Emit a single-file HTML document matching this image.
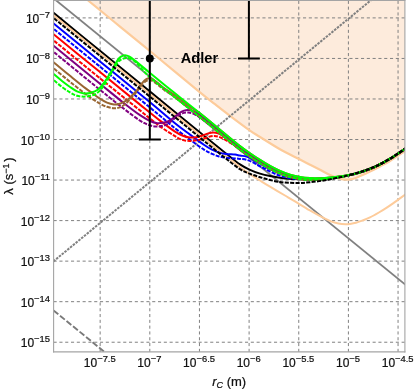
<!DOCTYPE html>
<html><head><meta charset="utf-8"><title>plot</title>
<style>
html,body{margin:0;padding:0;background:#ffffff;}
body{width:415px;height:390px;overflow:hidden;position:relative;font-family:"Liberation Sans",sans-serif;}
</style></head><body>
<svg width="415" height="390" viewBox="0 0 415 390" style="position:absolute;left:0;top:0;will-change:transform">
<defs><clipPath id="cp"><rect x="53.60" y="0.50" width="351.30" height="351.40"/></clipPath></defs>
<rect x="0" y="0" width="415" height="390" fill="#ffffff"/>
<g clip-path="url(#cp)">
<path d="M80.00,-6.10 C81.25,-5.08 80.83,-5.45 87.50,0.00 C94.17,5.45 107.78,16.60 120.00,26.60 C132.22,36.60 147.47,49.05 160.80,60.00 C174.13,70.95 190.97,84.93 200.00,92.30 C209.03,99.67 210.00,100.28 215.00,104.20 C220.00,108.12 224.17,111.40 230.00,115.80 C235.83,120.20 245.00,127.07 250.00,130.60 C255.00,134.13 255.00,133.88 260.00,137.00 C265.00,140.12 273.33,145.53 280.00,149.30 C286.67,153.07 295.00,157.03 300.00,159.60 C305.00,162.17 306.67,163.00 310.00,164.70 C313.33,166.40 316.67,168.08 320.00,169.80 C323.33,171.52 327.00,173.60 330.00,175.00 C333.00,176.40 335.50,177.43 338.00,178.20 C340.50,178.97 343.00,179.40 345.00,179.60 C347.00,179.80 348.33,179.63 350.00,179.40 C351.67,179.17 353.33,178.77 355.00,178.20 C356.67,177.63 357.68,177.03 360.00,176.00 C362.32,174.97 365.57,173.60 368.90,172.00 C372.23,170.40 376.48,168.23 380.00,166.40 C383.52,164.57 385.83,163.55 390.00,161.00 C394.17,158.45 401.67,153.33 405.00,151.10 C408.33,148.87 409.17,148.18 410.00,147.60 L410,-10 L80,-10 Z" fill="#fdebdc" stroke="none"/>
<line x1="53.60" y1="342.22" x2="404.90" y2="342.22" stroke="#808080" stroke-width="1" stroke-dasharray="3.1,2.7"/>
<line x1="53.60" y1="301.68" x2="404.90" y2="301.68" stroke="#808080" stroke-width="1" stroke-dasharray="3.1,2.7"/>
<line x1="53.60" y1="261.14" x2="404.90" y2="261.14" stroke="#808080" stroke-width="1" stroke-dasharray="3.1,2.7"/>
<line x1="53.60" y1="220.60" x2="404.90" y2="220.60" stroke="#808080" stroke-width="1" stroke-dasharray="3.1,2.7"/>
<line x1="53.60" y1="180.06" x2="404.90" y2="180.06" stroke="#808080" stroke-width="1" stroke-dasharray="3.1,2.7"/>
<line x1="53.60" y1="139.52" x2="404.90" y2="139.52" stroke="#808080" stroke-width="1" stroke-dasharray="3.1,2.7"/>
<line x1="53.60" y1="98.98" x2="404.90" y2="98.98" stroke="#808080" stroke-width="1" stroke-dasharray="3.1,2.7"/>
<line x1="53.60" y1="58.44" x2="404.90" y2="58.44" stroke="#808080" stroke-width="1" stroke-dasharray="3.1,2.7"/>
<line x1="53.60" y1="17.90" x2="404.90" y2="17.90" stroke="#808080" stroke-width="1" stroke-dasharray="3.1,2.7"/>
<line x1="100.15" y1="351.90" x2="100.15" y2="0.50" stroke="#808080" stroke-width="1" stroke-dasharray="3.1,2.7"/>
<line x1="149.80" y1="351.90" x2="149.80" y2="0.50" stroke="#808080" stroke-width="1" stroke-dasharray="3.1,2.7"/>
<line x1="199.45" y1="351.90" x2="199.45" y2="0.50" stroke="#808080" stroke-width="1" stroke-dasharray="3.1,2.7"/>
<line x1="249.10" y1="351.90" x2="249.10" y2="0.50" stroke="#808080" stroke-width="1" stroke-dasharray="3.1,2.7"/>
<line x1="298.75" y1="351.90" x2="298.75" y2="0.50" stroke="#808080" stroke-width="1" stroke-dasharray="3.1,2.7"/>
<line x1="348.40" y1="351.90" x2="348.40" y2="0.50" stroke="#808080" stroke-width="1" stroke-dasharray="3.1,2.7"/>
<line x1="398.05" y1="351.90" x2="398.05" y2="0.50" stroke="#808080" stroke-width="1" stroke-dasharray="3.1,2.7"/>
<path d="M80.00,-6.10 C81.25,-5.08 80.83,-5.45 87.50,0.00 C94.17,5.45 107.78,16.60 120.00,26.60 C132.22,36.60 147.47,49.05 160.80,60.00 C174.13,70.95 190.97,84.93 200.00,92.30 C209.03,99.67 210.00,100.28 215.00,104.20 C220.00,108.12 224.17,111.40 230.00,115.80 C235.83,120.20 245.00,127.07 250.00,130.60 C255.00,134.13 255.00,133.88 260.00,137.00 C265.00,140.12 273.33,145.53 280.00,149.30 C286.67,153.07 295.00,157.03 300.00,159.60 C305.00,162.17 306.67,163.00 310.00,164.70 C313.33,166.40 316.67,168.08 320.00,169.80 C323.33,171.52 327.00,173.60 330.00,175.00 C333.00,176.40 335.50,177.43 338.00,178.20 C340.50,178.97 343.00,179.40 345.00,179.60 C347.00,179.80 348.33,179.63 350.00,179.40 C351.67,179.17 353.33,178.77 355.00,178.20 C356.67,177.63 357.68,177.03 360.00,176.00 C362.32,174.97 365.57,173.60 368.90,172.00 C372.23,170.40 376.48,168.23 380.00,166.40 C383.52,164.57 385.83,163.55 390.00,161.00 C394.17,158.45 401.67,153.33 405.00,151.10 C408.33,148.87 409.17,148.18 410.00,147.60" fill="none" stroke="#fdcb9a" stroke-width="2.2"/>
<line x1="50.00" y1="-4.56" x2="410.00" y2="288.48" stroke="#808080" stroke-width="1.8"/>
<line x1="53.40" y1="261.40" x2="383.40" y2="-10.03" stroke="#808080" stroke-width="2" stroke-dasharray="2.5,1.1"/>
<line x1="53.50" y1="310.40" x2="113.50" y2="359.30" stroke="#7a7a7a" stroke-width="1.9" stroke-dasharray="6.2,2.2"/>
<path d="M50.00,9.96 C58.33,16.77 83.33,37.19 100.00,50.80 C116.67,64.41 133.33,78.02 150.00,91.64 C166.67,105.26 187.50,122.32 200.00,132.50 C212.50,142.68 218.33,147.38 225.00,152.70 C231.67,158.02 235.83,161.55 240.00,164.40 C244.17,167.25 246.67,168.27 250.00,169.80 C253.33,171.33 256.67,172.57 260.00,173.60 C263.33,174.63 265.83,175.20 270.00,176.00 C274.17,176.80 280.00,177.85 285.00,178.40 C290.00,178.95 295.00,179.22 300.00,179.30 C305.00,179.38 310.00,179.15 315.00,178.90 C320.00,178.65 325.83,178.22 330.00,177.80 C334.17,177.38 336.67,176.92 340.00,176.40 C343.33,175.88 346.67,175.40 350.00,174.70 C353.33,174.00 355.83,173.55 360.00,172.20 C364.17,170.85 370.00,168.85 375.00,166.60 C380.00,164.35 385.00,161.67 390.00,158.70 C395.00,155.73 401.67,151.03 405.00,148.80 C408.33,146.57 409.17,145.88 410.00,145.30" fill="none" stroke="#000000" stroke-width="2.00"/>
<path d="M50.00,12.36 C58.33,19.17 83.33,39.59 100.00,53.20 C116.67,66.81 133.33,80.39 150.00,94.04 C166.67,107.69 188.33,125.57 200.00,135.10 C211.67,144.63 213.33,145.85 220.00,151.20 C226.67,156.55 235.00,163.38 240.00,167.20 C245.00,171.02 246.67,171.88 250.00,174.10 C253.33,176.32 256.67,178.40 260.00,180.50 C263.33,182.60 265.83,184.20 270.00,186.70 C274.17,189.20 280.83,193.05 285.00,195.50 C289.17,197.95 290.92,198.95 295.00,201.40 C299.08,203.85 304.68,207.40 309.50,210.20 C314.32,213.00 320.32,216.33 323.90,218.20 C327.48,220.07 328.58,220.53 331.00,221.40 C333.42,222.27 335.97,222.93 338.40,223.40 C340.83,223.87 343.67,224.12 345.60,224.20 C347.53,224.28 348.27,224.13 350.00,223.90 C351.73,223.67 353.95,223.35 356.00,222.80 C358.05,222.25 359.97,221.50 362.30,220.60 C364.63,219.70 367.23,218.75 370.00,217.40 C372.77,216.05 376.23,214.05 378.90,212.50 C381.57,210.95 383.58,209.67 386.00,208.10 C388.42,206.53 390.30,205.27 393.40,203.10 C396.50,200.93 401.83,197.08 404.60,195.10 C407.37,193.12 409.10,191.85 410.00,191.20" fill="none" stroke="#fdcb9a" stroke-width="2.0"/>
<path d="M50.00,20.56 C58.33,27.37 83.33,47.79 100.00,61.40 C116.67,75.01 137.50,91.94 150.00,102.24 C162.50,112.54 168.33,117.81 175.00,123.20 C181.67,128.59 185.18,131.02 190.00,134.60 C194.82,138.18 200.23,142.18 203.90,144.70 C207.57,147.22 209.58,148.42 212.00,149.70 C214.42,150.98 216.07,151.68 218.40,152.40 C220.73,153.12 223.23,153.63 226.00,154.00 C228.77,154.37 232.67,154.33 235.00,154.60 C237.33,154.87 238.08,155.27 240.00,155.60 C241.92,155.93 244.33,155.93 246.50,156.60 C248.67,157.27 250.83,158.50 253.00,159.60 C255.17,160.70 257.33,161.97 259.50,163.20 C261.67,164.43 263.83,165.82 266.00,167.00 C268.17,168.18 270.33,169.30 272.50,170.30 C274.67,171.30 276.92,172.28 279.00,173.00 C281.08,173.72 282.83,174.00 285.00,174.60 C287.17,175.20 289.50,176.03 292.00,176.60 C294.50,177.17 297.00,177.63 300.00,178.01 C303.00,178.38 305.83,178.74 310.00,178.84 C314.17,178.94 320.00,178.95 325.00,178.60 C330.00,178.25 335.83,177.38 340.00,176.76 C344.17,176.14 346.67,175.63 350.00,174.90 C353.33,174.17 355.83,173.74 360.00,172.39 C364.17,171.03 370.00,169.02 375.00,166.76 C380.00,164.51 385.00,161.82 390.00,158.84 C395.00,155.87 401.67,151.16 405.00,148.92 C408.33,146.68 409.17,146.00 410.00,145.41" fill="none" stroke="#0000ff" stroke-width="2.00"/>
<path d="M50.00,25.86 C58.33,32.67 83.33,53.09 100.00,66.70 C116.67,80.31 137.50,97.27 150.00,107.54 C162.50,117.81 168.33,122.96 175.00,128.30 C181.67,133.64 185.18,136.05 190.00,139.60 C194.82,143.15 200.23,147.23 203.90,149.60 C207.57,151.97 209.58,152.70 212.00,153.80 C214.42,154.90 216.07,155.53 218.40,156.20 C220.73,156.87 223.23,157.43 226.00,157.80 C228.77,158.17 232.67,158.22 235.00,158.40 C237.33,158.58 238.08,158.67 240.00,158.90 C241.92,159.13 244.33,159.22 246.50,159.80 C248.67,160.38 250.83,161.37 253.00,162.40 C255.17,163.43 257.33,164.83 259.50,166.00 C261.67,167.17 263.83,168.28 266.00,169.40 C268.17,170.52 270.33,171.70 272.50,172.70 C274.67,173.70 276.92,174.68 279.00,175.40 C281.08,176.12 282.83,176.50 285.00,177.00 C287.17,177.50 289.50,178.06 292.00,178.40 C294.50,178.74 297.00,178.80 300.00,179.01 C303.00,179.23 305.83,179.66 310.00,179.69 C314.17,179.72 320.00,179.63 325.00,179.20 C330.00,178.77 335.83,177.80 340.00,177.12 C344.17,176.44 346.67,175.86 350.00,175.10 C353.33,174.34 355.83,173.93 360.00,172.57 C364.17,171.21 370.00,169.19 375.00,166.93 C380.00,164.66 385.00,161.97 390.00,158.99 C395.00,156.00 401.67,151.29 405.00,149.04 C408.33,146.80 409.17,146.11 410.00,145.53" fill="none" stroke="#0000ff" stroke-width="2.00" stroke-dasharray="4.1,1.3"/>
<path d="M50.00,31.26 C58.33,38.07 85.00,59.88 100.00,72.10 C115.00,84.32 130.00,96.52 140.00,104.60 C150.00,112.68 154.17,116.10 160.00,120.60 C165.83,125.10 171.17,129.07 175.00,131.60 C178.83,134.13 180.58,134.82 183.00,135.80 C185.42,136.78 187.33,137.25 189.50,137.50 C191.67,137.75 194.08,137.55 196.00,137.30 C197.92,137.05 198.95,136.65 201.00,136.00 C203.05,135.35 206.25,133.98 208.30,133.40 C210.35,132.82 211.68,132.52 213.30,132.50 C214.92,132.48 216.18,132.65 218.00,133.30 C219.82,133.95 222.20,135.18 224.20,136.40 C226.20,137.62 228.20,139.30 230.00,140.60 C231.80,141.90 233.33,142.99 235.00,144.20 C236.67,145.41 237.50,146.07 240.00,147.85 C242.50,149.64 246.67,152.64 250.00,154.92 C253.33,157.20 256.67,159.45 260.00,161.53 C263.33,163.60 266.67,165.59 270.00,167.38 C273.33,169.16 276.67,170.83 280.00,172.22 C283.33,173.62 286.67,174.81 290.00,175.77 C293.33,176.73 296.67,177.49 300.00,178.01 C303.33,178.52 305.83,178.74 310.00,178.84 C314.17,178.94 320.00,178.95 325.00,178.60 C330.00,178.25 335.83,177.38 340.00,176.76 C344.17,176.14 346.67,175.63 350.00,174.90 C353.33,174.17 355.83,173.74 360.00,172.39 C364.17,171.03 370.00,169.02 375.00,166.76 C380.00,164.51 385.00,161.82 390.00,158.84 C395.00,155.87 401.67,151.16 405.00,148.92 C408.33,146.68 409.17,146.00 410.00,145.41" fill="none" stroke="#ff0000" stroke-width="2.00"/>
<path d="M50.00,37.46 C58.33,44.27 85.00,66.14 100.00,78.30 C115.00,90.46 130.00,102.38 140.00,110.40 C150.00,118.42 154.17,122.10 160.00,126.40 C165.83,130.70 171.50,134.03 175.00,136.20 C178.50,138.37 179.07,138.63 181.00,139.40 C182.93,140.17 184.60,140.57 186.60,140.80 C188.60,141.03 190.77,141.00 193.00,140.80 C195.23,140.60 197.50,140.23 200.00,139.60 C202.50,138.97 205.67,137.60 208.00,137.00 C210.33,136.40 212.17,136.03 214.00,136.00 C215.83,135.97 217.17,136.20 219.00,136.80 C220.83,137.40 223.00,138.53 225.00,139.60 C227.00,140.67 229.17,142.03 231.00,143.20 C232.83,144.37 234.50,145.53 236.00,146.60 C237.50,147.67 237.67,147.94 240.00,149.61 C242.33,151.28 246.67,154.38 250.00,156.64 C253.33,158.89 256.67,161.11 260.00,163.15 C263.33,165.19 266.67,167.12 270.00,168.85 C273.33,170.58 276.67,172.20 280.00,173.55 C283.33,174.90 286.67,176.03 290.00,176.94 C293.33,177.85 296.67,178.55 300.00,179.01 C303.33,179.47 305.83,179.66 310.00,179.69 C314.17,179.72 320.00,179.63 325.00,179.20 C330.00,178.77 335.83,177.80 340.00,177.12 C344.17,176.44 346.67,175.86 350.00,175.10 C353.33,174.34 355.83,173.93 360.00,172.57 C364.17,171.21 370.00,169.19 375.00,166.93 C380.00,164.66 385.00,161.97 390.00,158.99 C395.00,156.00 401.67,151.29 405.00,149.04 C408.33,146.80 409.17,146.11 410.00,145.53" fill="none" stroke="#ff0000" stroke-width="2.00" stroke-dasharray="4.1,1.3"/>
<path d="M50.00,42.86 C58.33,49.67 87.50,73.51 100.00,83.70 C112.50,93.89 118.33,98.75 125.00,104.00 C131.67,109.25 135.83,112.37 140.00,115.20 C144.17,118.03 147.12,119.67 150.00,121.00 C152.88,122.33 155.13,122.90 157.30,123.20 C159.47,123.50 161.07,123.17 163.00,122.80 C164.93,122.43 166.95,122.00 168.90,121.00 C170.85,120.00 172.77,118.23 174.70,116.80 C176.63,115.37 178.95,113.43 180.50,112.40 C182.05,111.37 182.80,111.02 184.00,110.60 C185.20,110.18 186.37,109.90 187.70,109.90 C189.03,109.90 190.62,110.18 192.00,110.60 C193.38,111.02 194.67,111.67 196.00,112.40 C197.33,113.13 198.33,113.77 200.00,115.00 C201.67,116.23 204.00,118.20 206.00,119.80 C208.00,121.40 209.67,122.65 212.00,124.60 C214.33,126.55 215.33,127.65 220.00,131.53 C224.67,135.40 235.00,143.96 240.00,147.85 C245.00,151.75 246.67,152.64 250.00,154.92 C253.33,157.20 256.67,159.45 260.00,161.53 C263.33,163.60 266.67,165.59 270.00,167.38 C273.33,169.16 276.67,170.83 280.00,172.22 C283.33,173.62 286.67,174.81 290.00,175.77 C293.33,176.73 296.67,177.49 300.00,178.01 C303.33,178.52 305.83,178.74 310.00,178.84 C314.17,178.94 320.00,178.95 325.00,178.60 C330.00,178.25 335.83,177.38 340.00,176.76 C344.17,176.14 346.67,175.63 350.00,174.90 C353.33,174.17 355.83,173.74 360.00,172.39 C364.17,171.03 370.00,169.02 375.00,166.76 C380.00,164.51 385.00,161.82 390.00,158.84 C395.00,155.87 401.67,151.16 405.00,148.92 C408.33,146.68 409.17,146.00 410.00,145.41" fill="none" stroke="#800080" stroke-width="2.00"/>
<path d="M50.00,48.96 C58.33,55.77 87.50,79.69 100.00,89.80 C112.50,99.91 118.33,104.47 125.00,109.60 C131.67,114.73 136.00,118.03 140.00,120.60 C144.00,123.17 146.33,124.03 149.00,125.00 C151.67,125.97 153.67,126.27 156.00,126.40 C158.33,126.53 160.83,126.37 163.00,125.80 C165.17,125.23 167.00,124.30 169.00,123.00 C171.00,121.70 173.17,119.43 175.00,118.00 C176.83,116.57 178.50,115.25 180.00,114.40 C181.50,113.55 182.60,113.22 184.00,112.90 C185.40,112.58 187.07,112.45 188.40,112.50 C189.73,112.55 190.73,112.78 192.00,113.20 C193.27,113.62 194.67,114.27 196.00,115.00 C197.33,115.73 198.33,116.43 200.00,117.60 C201.67,118.77 204.00,120.50 206.00,122.00 C208.00,123.50 209.67,124.71 212.00,126.60 C214.33,128.49 215.33,129.52 220.00,133.35 C224.67,137.19 235.00,145.73 240.00,149.61 C245.00,153.49 246.67,154.38 250.00,156.64 C253.33,158.89 256.67,161.11 260.00,163.15 C263.33,165.19 266.67,167.12 270.00,168.85 C273.33,170.58 276.67,172.20 280.00,173.55 C283.33,174.90 286.67,176.03 290.00,176.94 C293.33,177.85 296.67,178.55 300.00,179.01 C303.33,179.47 305.83,179.66 310.00,179.69 C314.17,179.72 320.00,179.63 325.00,179.20 C330.00,178.77 335.83,177.80 340.00,177.12 C344.17,176.44 346.67,175.86 350.00,175.10 C353.33,174.34 355.83,173.93 360.00,172.57 C364.17,171.21 370.00,169.19 375.00,166.93 C380.00,164.66 385.00,161.97 390.00,158.99 C395.00,156.00 401.67,151.29 405.00,149.04 C408.33,146.80 409.17,146.11 410.00,145.53" fill="none" stroke="#800080" stroke-width="2.00" stroke-dasharray="4.1,1.3"/>
<path d="M50.00,59.40 C51.00,60.22 52.67,61.57 56.00,64.30 C59.33,67.03 65.17,71.87 70.00,75.80 C74.83,79.73 81.33,85.05 85.00,87.90 C88.67,90.75 89.58,91.15 92.00,92.90 C94.42,94.65 97.00,96.78 99.50,98.40 C102.00,100.02 104.60,101.60 107.00,102.60 C109.40,103.60 111.90,104.17 113.90,104.40 C115.90,104.63 117.32,104.42 119.00,104.00 C120.68,103.58 122.25,102.87 124.00,101.90 C125.75,100.93 128.05,99.40 129.50,98.20 C130.95,97.00 131.50,95.97 132.70,94.70 C133.90,93.43 135.50,92.07 136.70,90.60 C137.90,89.13 138.93,87.23 139.90,85.90 C140.87,84.57 141.48,83.68 142.50,82.60 C143.52,81.52 144.92,80.13 146.00,79.40 C147.08,78.67 147.92,78.23 149.00,78.20 C150.08,78.17 150.93,78.30 152.50,79.20 C154.07,80.10 156.32,82.00 158.40,83.60 C160.48,85.20 162.23,86.85 165.00,88.80 C167.77,90.75 171.17,92.53 175.00,95.30 C178.83,98.07 183.83,102.40 188.00,105.40 C192.17,108.40 194.67,109.25 200.00,113.30 C205.33,117.35 213.33,124.23 220.00,129.70 C226.67,135.17 235.00,142.18 240.00,146.10 C245.00,150.02 246.67,150.90 250.00,153.20 C253.33,155.50 256.67,157.78 260.00,159.90 C263.33,162.02 266.67,164.07 270.00,165.90 C273.33,167.73 276.67,169.45 280.00,170.90 C283.33,172.35 286.67,173.58 290.00,174.60 C293.33,175.62 296.67,176.43 300.00,177.00 C303.33,177.57 305.83,177.83 310.00,178.00 C314.17,178.17 320.00,178.27 325.00,178.00 C330.00,177.73 335.83,176.95 340.00,176.40 C344.17,175.85 346.67,175.40 350.00,174.70 C353.33,174.00 355.83,173.55 360.00,172.20 C364.17,170.85 370.00,168.85 375.00,166.60 C380.00,164.35 385.00,161.67 390.00,158.70 C395.00,155.73 401.67,151.03 405.00,148.80 C408.33,146.57 409.17,145.88 410.00,145.30" fill="none" stroke="#996633" stroke-width="2.00"/>
<path d="M50.00,65.40 C51.00,66.22 52.67,67.57 56.00,70.30 C59.33,73.03 65.17,77.92 70.00,81.80 C74.83,85.68 81.33,90.80 85.00,93.60 C88.67,96.40 89.58,96.97 92.00,98.60 C94.42,100.23 97.00,102.03 99.50,103.40 C102.00,104.77 104.60,106.00 107.00,106.80 C109.40,107.60 111.90,108.07 113.90,108.20 C115.90,108.33 117.32,108.13 119.00,107.60 C120.68,107.07 122.25,106.27 124.00,105.00 C125.75,103.73 128.00,101.53 129.50,100.00 C131.00,98.47 131.75,97.23 133.00,95.80 C134.25,94.37 135.80,92.90 137.00,91.40 C138.20,89.90 139.20,88.10 140.20,86.80 C141.20,85.50 141.95,84.58 143.00,83.60 C144.05,82.62 145.33,81.47 146.50,80.90 C147.67,80.33 148.75,80.05 150.00,80.20 C151.25,80.35 152.50,80.90 154.00,81.80 C155.50,82.70 157.17,84.13 159.00,85.60 C160.83,87.07 162.33,88.63 165.00,90.60 C167.67,92.57 169.17,92.99 175.00,97.40 C180.83,101.82 192.50,111.11 200.00,117.10 C207.50,123.09 213.33,127.94 220.00,133.35 C226.67,138.77 235.00,145.73 240.00,149.61 C245.00,153.49 246.67,154.38 250.00,156.64 C253.33,158.89 256.67,161.11 260.00,163.15 C263.33,165.19 266.67,167.12 270.00,168.85 C273.33,170.58 276.67,172.20 280.00,173.55 C283.33,174.90 286.67,176.03 290.00,176.94 C293.33,177.85 296.67,178.55 300.00,179.01 C303.33,179.47 305.83,179.66 310.00,179.69 C314.17,179.72 320.00,179.63 325.00,179.20 C330.00,178.77 335.83,177.80 340.00,177.12 C344.17,176.44 346.67,175.86 350.00,175.10 C353.33,174.34 355.83,173.93 360.00,172.57 C364.17,171.21 370.00,169.19 375.00,166.93 C380.00,164.66 385.00,161.97 390.00,158.99 C395.00,156.00 401.67,151.29 405.00,149.04 C408.33,146.80 409.17,146.11 410.00,145.53" fill="none" stroke="#996633" stroke-width="2.00" stroke-dasharray="4.1,1.3"/>
<path d="M50.00,70.60 C50.60,71.15 51.60,72.17 53.60,73.90 C55.60,75.63 59.27,78.82 62.00,81.00 C64.73,83.18 67.50,85.27 70.00,87.00 C72.50,88.73 74.67,90.33 77.00,91.40 C79.33,92.47 81.83,93.13 84.00,93.40 C86.17,93.67 87.72,93.60 90.00,93.00 C92.28,92.40 95.17,91.78 97.70,89.80 C100.23,87.82 102.75,84.47 105.20,81.10 C107.65,77.73 110.30,73.13 112.40,69.60 C114.50,66.07 116.37,62.07 117.80,59.90 C119.23,57.73 119.80,57.38 121.00,56.60 C122.20,55.82 123.58,55.20 125.00,55.20 C126.42,55.20 127.83,55.70 129.50,56.60 C131.17,57.50 131.58,57.87 135.00,60.60 C138.42,63.33 143.33,67.55 150.00,73.00 C156.67,78.45 166.67,86.58 175.00,93.30 C183.33,100.02 192.50,107.23 200.00,113.30 C207.50,119.37 213.33,124.23 220.00,129.70 C226.67,135.17 235.00,142.18 240.00,146.10 C245.00,150.02 246.67,150.90 250.00,153.20 C253.33,155.50 256.67,157.78 260.00,159.90 C263.33,162.02 266.67,164.07 270.00,165.90 C273.33,167.73 276.67,169.45 280.00,170.90 C283.33,172.35 286.67,173.58 290.00,174.60 C293.33,175.62 296.67,176.43 300.00,177.00 C303.33,177.57 305.83,177.83 310.00,178.00 C314.17,178.17 320.00,178.27 325.00,178.00 C330.00,177.73 335.83,176.95 340.00,176.40 C344.17,175.85 346.67,175.40 350.00,174.70 C353.33,174.00 355.83,173.55 360.00,172.20 C364.17,170.85 370.00,168.85 375.00,166.60 C380.00,164.35 385.00,161.67 390.00,158.70 C395.00,155.73 401.67,151.03 405.00,148.80 C408.33,146.57 409.17,145.88 410.00,145.30" fill="none" stroke="#00ff00" stroke-width="2.00"/>
<path d="M50.00,76.80 C50.60,77.32 51.60,78.20 53.60,79.90 C55.60,81.60 59.27,84.92 62.00,87.00 C64.73,89.08 67.67,91.00 70.00,92.40 C72.33,93.80 73.92,94.70 76.00,95.40 C78.08,96.10 80.33,96.50 82.50,96.60 C84.67,96.70 86.58,96.57 89.00,96.00 C91.42,95.43 94.37,95.17 97.00,93.20 C99.63,91.23 102.27,87.80 104.80,84.20 C107.33,80.60 110.02,75.27 112.20,71.60 C114.38,67.93 116.30,64.27 117.90,62.20 C119.50,60.13 120.40,59.92 121.80,59.20 C123.20,58.48 124.85,57.97 126.30,57.90 C127.75,57.83 128.88,58.02 130.50,58.80 C132.12,59.58 132.75,59.51 136.00,62.60 C139.25,65.69 143.50,71.54 150.00,77.34 C156.50,83.14 166.67,90.78 175.00,97.40 C183.33,104.03 192.50,111.11 200.00,117.10 C207.50,123.09 213.33,127.94 220.00,133.35 C226.67,138.77 235.00,145.73 240.00,149.61 C245.00,153.49 246.67,154.38 250.00,156.64 C253.33,158.89 256.67,161.11 260.00,163.15 C263.33,165.19 266.67,167.12 270.00,168.85 C273.33,170.58 276.67,172.20 280.00,173.55 C283.33,174.90 286.67,176.03 290.00,176.94 C293.33,177.85 296.67,178.55 300.00,179.01 C303.33,179.47 305.83,179.66 310.00,179.69 C314.17,179.72 320.00,179.63 325.00,179.20 C330.00,178.77 335.83,177.80 340.00,177.12 C344.17,176.44 346.67,175.86 350.00,175.10 C353.33,174.34 355.83,173.93 360.00,172.57 C364.17,171.21 370.00,169.19 375.00,166.93 C380.00,164.66 385.00,161.97 390.00,158.99 C395.00,156.00 401.67,151.29 405.00,149.04 C408.33,146.80 409.17,146.11 410.00,145.53" fill="none" stroke="#00ff00" stroke-width="2.00" stroke-dasharray="4.1,1.3"/>
<path d="M50.00,15.06 C58.33,21.87 83.33,42.29 100.00,55.90 C116.67,69.51 133.33,83.12 150.00,96.74 C166.67,110.36 187.50,127.42 200.00,137.60 C212.50,147.78 218.33,152.53 225.00,157.80 C231.67,163.07 235.83,166.53 240.00,169.20 C244.17,171.87 246.67,172.47 250.00,173.80 C253.33,175.13 256.67,176.17 260.00,177.20 C263.33,178.23 266.67,179.20 270.00,180.00 C273.33,180.80 276.67,181.53 280.00,182.00 C283.33,182.47 286.67,182.63 290.00,182.80 C293.33,182.97 296.67,183.10 300.00,183.00 C303.33,182.90 305.83,182.65 310.00,182.20 C314.17,181.75 320.00,181.13 325.00,180.30 C330.00,179.47 335.83,178.10 340.00,177.20 C344.17,176.30 348.33,175.28 350.00,174.90" fill="none" stroke="#000000" stroke-width="2.00" stroke-dasharray="4.1,1.3"/>
<path d="M350.00,174.90 C351.67,174.45 355.83,173.58 360.00,172.20 C364.17,170.82 370.00,168.85 375.00,166.60 C380.00,164.35 385.00,161.67 390.00,158.70 C395.00,155.73 401.67,151.03 405.00,148.80 C408.33,146.57 409.17,145.88 410.00,145.30" fill="none" stroke="#000000" stroke-width="2.50" stroke-dasharray="4.3,1.1"/>
<line x1="149.8" y1="-5" x2="149.8" y2="139.5" stroke="#000" stroke-width="2"/>
<line x1="138.8" y1="139.5" x2="160.8" y2="139.5" stroke="#000" stroke-width="2"/>
<line x1="248.9" y1="-5" x2="248.9" y2="58.4" stroke="#000" stroke-width="2"/>
<line x1="238" y1="58.4" x2="259.8" y2="58.4" stroke="#000" stroke-width="2"/>
<circle cx="149.8" cy="58.4" r="4" fill="#000"/>
</g>
<line x1="53.1" y1="0.5" x2="405.4" y2="0.5" stroke="#a4a4a4" stroke-width="1.1"/>
<line x1="53.6" y1="0" x2="53.6" y2="352.4" stroke="#a4a4a4" stroke-width="1.1"/>
<line x1="404.9" y1="0" x2="404.9" y2="352.4" stroke="#a4a4a4" stroke-width="1.1"/>
<line x1="53.1" y1="351.9" x2="405.4" y2="351.9" stroke="#a4a4a4" stroke-width="1.1"/>
<text x="50.00" y="22.90" text-anchor="end" font-family="Liberation Sans, sans-serif" font-size="12" fill="#111111" stroke="#111111" stroke-width="0.22">10<tspan font-size="9.4" dy="-4.9">−7</tspan></text>
<text x="50.00" y="63.44" text-anchor="end" font-family="Liberation Sans, sans-serif" font-size="12" fill="#111111" stroke="#111111" stroke-width="0.22">10<tspan font-size="9.4" dy="-4.9">−8</tspan></text>
<text x="50.00" y="103.98" text-anchor="end" font-family="Liberation Sans, sans-serif" font-size="12" fill="#111111" stroke="#111111" stroke-width="0.22">10<tspan font-size="9.4" dy="-4.9">−9</tspan></text>
<text x="50.00" y="144.52" text-anchor="end" font-family="Liberation Sans, sans-serif" font-size="12" fill="#111111" stroke="#111111" stroke-width="0.22">10<tspan font-size="9.4" dy="-4.9">−10</tspan></text>
<text x="50.00" y="185.06" text-anchor="end" font-family="Liberation Sans, sans-serif" font-size="12" fill="#111111" stroke="#111111" stroke-width="0.22">10<tspan font-size="9.4" dy="-4.9">−11</tspan></text>
<text x="50.00" y="225.60" text-anchor="end" font-family="Liberation Sans, sans-serif" font-size="12" fill="#111111" stroke="#111111" stroke-width="0.22">10<tspan font-size="9.4" dy="-4.9">−12</tspan></text>
<text x="50.00" y="266.14" text-anchor="end" font-family="Liberation Sans, sans-serif" font-size="12" fill="#111111" stroke="#111111" stroke-width="0.22">10<tspan font-size="9.4" dy="-4.9">−13</tspan></text>
<text x="50.00" y="306.68" text-anchor="end" font-family="Liberation Sans, sans-serif" font-size="12" fill="#111111" stroke="#111111" stroke-width="0.22">10<tspan font-size="9.4" dy="-4.9">−14</tspan></text>
<text x="50.00" y="347.22" text-anchor="end" font-family="Liberation Sans, sans-serif" font-size="12" fill="#111111" stroke="#111111" stroke-width="0.22">10<tspan font-size="9.4" dy="-4.9">−15</tspan></text>
<text x="99.75" y="366.50" text-anchor="middle" font-family="Liberation Sans, sans-serif" font-size="12" fill="#111111" stroke="#111111" stroke-width="0.22">10<tspan font-size="9.4" dy="-4.9">−7.5</tspan></text>
<text x="149.40" y="366.50" text-anchor="middle" font-family="Liberation Sans, sans-serif" font-size="12" fill="#111111" stroke="#111111" stroke-width="0.22">10<tspan font-size="9.4" dy="-4.9">−7</tspan></text>
<text x="199.05" y="366.50" text-anchor="middle" font-family="Liberation Sans, sans-serif" font-size="12" fill="#111111" stroke="#111111" stroke-width="0.22">10<tspan font-size="9.4" dy="-4.9">−6.5</tspan></text>
<text x="248.70" y="366.50" text-anchor="middle" font-family="Liberation Sans, sans-serif" font-size="12" fill="#111111" stroke="#111111" stroke-width="0.22">10<tspan font-size="9.4" dy="-4.9">−6</tspan></text>
<text x="298.35" y="366.50" text-anchor="middle" font-family="Liberation Sans, sans-serif" font-size="12" fill="#111111" stroke="#111111" stroke-width="0.22">10<tspan font-size="9.4" dy="-4.9">−5.5</tspan></text>
<text x="348.00" y="366.50" text-anchor="middle" font-family="Liberation Sans, sans-serif" font-size="12" fill="#111111" stroke="#111111" stroke-width="0.22">10<tspan font-size="9.4" dy="-4.9">−5</tspan></text>
<text x="397.65" y="366.50" text-anchor="middle" font-family="Liberation Sans, sans-serif" font-size="12" fill="#111111" stroke="#111111" stroke-width="0.22">10<tspan font-size="9.4" dy="-4.9">−4.5</tspan></text>
<text transform="translate(199.4,62.9) scale(1.06,1)" text-anchor="middle" font-family="Liberation Sans, sans-serif" font-size="13.8" font-weight="bold" fill="#000">Adler</text>
<text x="212.2" y="386.2" font-family="Liberation Sans, sans-serif" font-size="13" fill="#111111" stroke="#111111" stroke-width="0.22"><tspan font-style="italic">r</tspan><tspan font-style="italic" font-size="9" dy="2.2">C</tspan><tspan dy="-2.2"> (m)</tspan></text>
<text transform="translate(13.3,194.7) rotate(-90)" font-family="Liberation Sans, sans-serif" font-size="13" fill="#111111" stroke="#111111" stroke-width="0.22">λ (s<tspan font-size="9" dy="-4.6">−1</tspan><tspan dy="4.6" dx="1.8">)</tspan></text>
</svg>
</body></html>
